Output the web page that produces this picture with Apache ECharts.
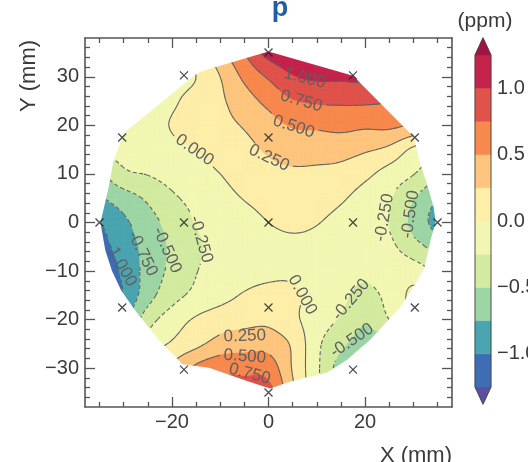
<!DOCTYPE html>
<html>
<head>
<meta charset="utf-8">
<script src="https://cdn.jsdelivr.net/npm/echarts@6/dist/echarts.min.js"></script>
<style>
  html, body { margin: 0; padding: 0; background: #fff; }
  #chart { width: 528px; height: 462px; }
</style>
</head>
<body>
<div id="chart"></div>
<script>
  // measured field, ppm, on a 5 mm grid (rows top to bottom)
  const gridX = [-35, -30, -25, -20, -15, -10, -5, 0, 5, 10, 15, 20, 25, 30, 35]
  const gridY = [35, 30, 25, 20, 15, 10, 5, 0, -5, -10, -15, -20, -25, -30, -35]
  const ppm = [
    [-0.35, -0.25, -0.18, -0.10, 0.08, 0.42, 0.75, 1.10, 1.20, 1.20, 1.20, 1.15, 1.10, 0.90, 0.60],
    [-0.35, -0.25, -0.15, -0.08, 0.00, 0.25, 0.55, 0.78, 0.98, 1.04, 1.04, 1.05, 1.00, 0.80, 0.60],
    [-0.30, -0.20, -0.10, -0.03, 0.08, 0.21, 0.39, 0.57, 0.73, 0.78, 0.79, 0.79, 0.75, 0.60, 0.40],
    [-0.25, -0.15, -0.06, 0.01, 0.10, 0.18, 0.27, 0.40, 0.52, 0.54, 0.57, 0.54, 0.55, 0.45, 0.20],
    [-0.22, -0.17, -0.12, -0.05, 0.00, 0.09, 0.18, 0.28, 0.35, 0.35, 0.34, 0.28, 0.19, -0.05, -0.15],
    [-0.55, -0.30, -0.24, -0.16, -0.08, 0.00, 0.10, 0.18, 0.21, 0.20, 0.17, 0.06, -0.10, -0.24, -0.45],
    [-0.78, -0.62, -0.46, -0.29, -0.18, -0.08, 0.01, 0.08, 0.12, 0.10, 0.03, -0.10, -0.23, -0.48, -0.75],
    [-1.00, -0.80, -0.60, -0.41, -0.24, -0.16, -0.08, 0.00, 0.04, 0.01, -0.07, -0.15, -0.26, -0.58, -0.85],
    [-1.12, -0.88, -0.67, -0.46, -0.29, -0.18, -0.10, -0.06, -0.04, -0.06, -0.12, -0.18, -0.20, -0.40, -0.60],
    [-1.25, -0.95, -0.66, -0.44, -0.26, -0.15, -0.08, -0.04, -0.03, -0.10, -0.15, -0.20, -0.12, -0.12, -0.30],
    [-1.20, -0.98, -0.60, -0.34, -0.19, -0.08, 0.02, 0.06, 0.03, -0.07, -0.19, -0.33, -0.17, 0.05, 0.00],
    [-1.00, -0.80, -0.36, -0.13, 0.03, 0.13, 0.17, 0.19, 0.05, -0.12, -0.28, -0.47, -0.25, 0.00, 0.00],
    [-0.90, -0.60, -0.15, 0.03, 0.19, 0.34, 0.40, 0.40, 0.21, -0.19, -0.45, -0.60, -0.55, -0.30, -0.10],
    [-0.50, -0.20, 0.00, 0.30, 0.55, 0.68, 0.67, 0.64, 0.23, -0.20, -0.60, -0.65, -0.50, -0.30, -0.10],
    [-0.40, -0.20, 0.10, 0.40, 0.70, 0.85, 0.90, 0.85, 0.30, -0.20, -0.60, -0.60, -0.40, -0.20, -0.10]
  ]

  // contour levels and colours (below first level ... above last level)
  const levels = [-1.25, -1, -0.75, -0.5, -0.25, 0, 0.25, 0.5, 0.75, 1, 1.25]
  const bandColors = ['#5b4fa0', '#3f6db3', '#4aa5b0', '#9dd5a5', '#d3eba0', '#f1f7b3',
    '#fdeea8', '#fdc57e', '#f7894e', '#e0534b', '#c4234c', '#a11544']
  const lineLevels = [-1, -0.75, -0.5, -0.25, 0, 0.25, 0.5, 0.75, 1]

  // outline of the measured area (mm)
  const outlineX = [0, 17.5, 30.1, 31.2, 32.8, 34.2, 34.6, 33.6, 32.3, 30.8, 27.3, 21, 16.2, 12, 7.8, 4.4, 0.3,
    -4.6, -12.3, -17.8, -22.7, -27.6, -30.5, -32.4, -33.8, -34.8, -33.9, -33.1, -32.1, -29.9, -15.1, -13.7]
  const outlineY = [35.2, 30.2, 17.6, 12.8, 8, 3.2, 0, -3.5, -9.2, -12, -17.4, -24.2, -28.3, -31, -31.9, -32.8, -34.2,
    -32.6, -29.9, -29.2, -24.2, -18.1, -14, -10, -5.7, 0, 3.8, 7.3, 12.7, 18.5, 30.5, 31.2]

  // probe positions
  const markX = [0, 17.5, 30.3, 35, 30.3, 17.5, 0, -17.5, -30.3, -35, -30.3, -17.5, 0, 17.5, 0, -17.5, 0]
  const markY = [35, 30.3, 17.5, 0, -17.5, -30.3, -35, -30.3, -17.5, 0, 17.5, 30.3, 17.5, 0, 0, 0, -17.5]

  // inline contour labels
  const clabelText = ['1.000', '0.750', '0.500', '0.250', '0.000', '-0.250', '-0.500', '-0.750', '-1.000',
    '-0.250', '-0.500', '0.000', '-0.250', '-0.500', '0.250', '0.500', '0.750']
  const clabelLevel = [1, 0.75, 0.5, 0.25, 0, -0.25, -0.5, -0.75, -1, -0.25, -0.5, 0, -0.25, -0.5, 0.25, 0.5, 0.75]
  const clabelX = [7.5, 6.8, 5.2, 0.1, -15.3, -14.0, -21.0, -26.1, -30.6, 24.0, 29.4, 7.0, 17.1, 17.3, -4.9, -4.9, -3.9]
  const clabelY = [29.7, 25.0, 19.7, 13.3, 14.9, -3.5, -5.7, -6.4, -8.6, 1.0, 1.7, -14.9, -15.9, -24.3, -23.4, -27.6, -31.2]
  const clabelAngle = [-14, -16, -18, -25, -35, -74, -66, -64, -61, 80, 82, -61, 50, 34, 2, -4, -15]

  const xMajor = [-20, 0, 20]
  const xMinor = [-35, -30, -25, -15, -10, -5, 5, 10, 15, 25, 30, 35]
  const yMajor = [-30, -20, -10, 0, 10, 20, 30]
  const yMinor = []
  for (let v = -36; v <= 36; v += 2) if (v % 10 !== 0) yMinor.push(v)
  const cbarTicks = [-1, -0.5, 0, 0.5, 1]
  const cbarExt = 0.13

  const font = '"Liberation Sans", Arial, sans-serif'
  const axisColor = '#555'
  const SUB = 10
  const minus = (s) => String(s).replace('-', '\u2212')

  const nx = gridX.length, ny = gridY.length
  const cells = []
  for (let j = 0; j < ny - 1; j++) {
    for (let i = 0; i < nx - 1; i++) {
      cells.push([gridX[i], gridX[i + 1], gridY[j + 1], gridY[j],
        ppm[j + 1][i], ppm[j + 1][i + 1], ppm[j][i], ppm[j][i + 1], i, j])
    }
  }

  // smooth (Catmull-Rom) surface through the grid values, linear extrapolation at the edges
  const at = (ix, iy) => {
    if (ix < 0) return 2 * at(0, iy) - at(1, iy)
    if (ix >= nx) return 2 * at(nx - 1, iy) - at(nx - 2, iy)
    if (iy < 0) return 2 * at(ix, 0) - at(ix, 1)
    if (iy >= ny) return 2 * at(ix, ny - 1) - at(ix, ny - 2)
    return ppm[iy][ix]
  }
  const cr = (p0, p1, p2, p3, t) =>
    0.5 * (2 * p1 + (p2 - p0) * t + (2 * p0 - 5 * p1 + 4 * p2 - p3) * t * t + (3 * p1 - p0 - 3 * p2 + p3) * t * t * t)

  const bandOf = (v) => {
    let k = 0
    while (k < levels.length && v >= levels[k]) k++
    return k
  }

  const clipPoly = (poly, s) => {
    const out = []
    for (let i = 0; i < poly.length; i++) {
      const a = poly[i], b = poly[(i + 1) % poly.length]
      const sa = s(a[2]), sb = s(b[2])
      if (sa >= 0) out.push(a)
      if ((sa >= 0) !== (sb >= 0)) {
        const t = sa / (sa - sb)
        out.push([a[0] + t * (b[0] - a[0]), a[1] + t * (b[1] - a[1]), a[2] + t * (b[2] - a[2])])
      }
    }
    return out
  }

  const f2 = (n) => n.toFixed(2)
  const polyPath = (poly) => {
    let d = 'M' + f2(poly[0][0]) + ' ' + f2(poly[0][1])
    for (let i = 1; i < poly.length; i++) d += 'L' + f2(poly[i][0]) + ' ' + f2(poly[i][1])
    return d + 'Z'
  }

  // sub-nodes of one grid cell, in pixels, with surface values
  const subGrid = (api) => {
    const a = api.coord([api.value(0), api.value(2)])
    const b = api.coord([api.value(1), api.value(3)])
    const i = api.value(8), j = api.value(9)
    // neighbourhood rows from bottom (j+2) to top (j-1)
    const rowsIdx = [j + 2, j + 1, j, j - 1]
    const nodes = []
    let lo = Infinity, hi = -Infinity
    for (let jj = 0; jj <= SUB; jj++) {
      const t = jj / SUB
      const row = []
      for (let ii = 0; ii <= SUB; ii++) {
        const s = ii / SUB
        const r = rowsIdx.map((iy) => cr(at(i - 1, iy), at(i, iy), at(i + 1, iy), at(i + 2, iy), s))
        const v = cr(r[0], r[1], r[2], r[3], t)
        lo = Math.min(lo, v); hi = Math.max(hi, v)
        row.push([a[0] + s * (b[0] - a[0]), a[1] + t * (b[1] - a[1]), v])
      }
      nodes.push(row)
    }
    return { lo, hi, nodes }
  }

  const renderFill = (params, api) => {
    const g = subGrid(api)
    const kLo = bandOf(g.lo), kHi = bandOf(g.hi)
    const paths = {}
    const add = (k, poly) => {
      if (poly.length >= 3) paths[k] = (paths[k] || '') + polyPath(poly)
    }
    const n = g.nodes
    if (kLo === kHi) {
      add(kLo, [n[0][0], n[0][SUB], n[SUB][SUB], n[SUB][0]])
    } else {
      for (let j = 0; j < SUB; j++) {
        for (let i = 0; i < SUB; i++) {
          const p = n[j][i], q = n[j][i + 1], r = n[j + 1][i + 1], u = n[j + 1][i]
          const ks = [p, q, r, u].map((m) => bandOf(m[2]))
          const mn = Math.min(...ks), mx = Math.max(...ks)
          if (mn === mx) { add(mn, [p, q, r, u]); continue }
          [[p, q, r], [p, r, u]].forEach((tri) => {
            for (let k = mn; k <= mx; k++) {
              let poly = tri
              if (k > 0) poly = clipPoly(poly, (v) => v - levels[k - 1])
              if (k < levels.length && poly.length) poly = clipPoly(poly, (v) => levels[k] - v)
              add(k, poly)
            }
          })
        }
      }
    }
    return {
      type: 'group',
      children: Object.keys(paths).map((k) => ({
        type: 'path',
        shape: { pathData: paths[k] },
        style: { fill: bandColors[k], stroke: bandColors[k], lineWidth: 0.8 }
      }))
    }
  }

  const chainSegs = (segs) => {
    const key = (p) => f2(p[0]) + ',' + f2(p[1])
    const map = new Map()
    segs.forEach((s, i) => {
      s.forEach((p) => {
        const k = key(p)
        if (!map.has(k)) map.set(k, [])
        map.get(k).push(i)
      })
    })
    const used = segs.map(() => false)
    const lines = []
    for (let i = 0; i < segs.length; i++) {
      if (used[i]) continue
      used[i] = true
      const line = [segs[i][0], segs[i][1]]
      for (let dir = 0; dir < 2; dir++) {
        let grow = true
        while (grow) {
          grow = false
          const end = line[line.length - 1]
          const ek = key(end)
          for (const j of map.get(ek) || []) {
            if (used[j]) continue
            used[j] = true
            line.push(key(segs[j][0]) === ek ? segs[j][1] : segs[j][0])
            grow = true
            break
          }
        }
        line.reverse()
      }
      lines.push(line)
    }
    return lines
  }

  const renderLines = (params, api) => {
    const g = subGrid(api)
    const lvls = lineLevels.filter((L) => g.hi >= L && g.lo < L)
    const children = []
    if (!lvls.length) return { type: 'group', children }
    const boxes = clabelText.map((txt, i) => {
      const th = clabelAngle[i] * Math.PI / 180
      return { level: clabelLevel[i], c: api.coord([clabelX[i], clabelY[i]]),
        cos: Math.cos(th), sin: Math.sin(th), hw: txt.length * 4.6 + 2 }
    })
    const inLabel = (pt, L) => boxes.some((b) => {
      if (b.level !== L) return false
      const dx = pt[0] - b.c[0], dy = pt[1] - b.c[1]
      return Math.abs(dx * b.cos - dy * b.sin) < b.hw && Math.abs(dx * b.sin + dy * b.cos) < 7
    })
    const cross = (u, w, L) => {
      let m = u, k = w
      if (w[0] < u[0] || (w[0] === u[0] && w[1] < u[1])) { m = w; k = u }
      const t = (L - m[2]) / (k[2] - m[2])
      return [m[0] + t * (k[0] - m[0]), m[1] + t * (k[1] - m[1])]
    }
    const n = g.nodes
    lvls.forEach((L) => {
      const segs = []
      for (let j = 0; j < SUB; j++) {
        for (let i = 0; i < SUB; i++) {
          const p = n[j][i], q = n[j][i + 1], r = n[j + 1][i + 1], u = n[j + 1][i]
          ;[[p, q, r], [p, r, u]].forEach((tri) => {
            const pts = []
            for (let e = 0; e < 3; e++) {
              const a = tri[e], b = tri[(e + 1) % 3]
              if ((a[2] >= L) !== (b[2] >= L)) pts.push(cross(a, b, L))
            }
            if (pts.length !== 2) return
            if (f2(pts[0][0]) === f2(pts[1][0]) && f2(pts[0][1]) === f2(pts[1][1])) return
            const mid = [(pts[0][0] + pts[1][0]) / 2, (pts[0][1] + pts[1][1]) / 2]
            if (!inLabel(mid, L)) segs.push(pts)
          })
        }
      }
      chainSegs(segs).forEach((line) => {
        children.push({
          type: 'polyline',
          shape: { points: line },
          style: { stroke: '#626262', lineWidth: 1.1, fill: 'none', lineDash: L < 0 ? [4, 2.5] : null }
        })
      })
    })
    return { type: 'group', children }
  }

  const renderMask = (params, api) => {
    const cs = params.coordSys
    let d = 'M' + cs.x + ' ' + cs.y + 'L' + (cs.x + cs.width) + ' ' + cs.y + 'L' + (cs.x + cs.width) + ' ' +
      (cs.y + cs.height) + 'L' + cs.x + ' ' + (cs.y + cs.height) + 'Z'
    const pts = outlineX.map((x, i) => api.coord([x, outlineY[i]]))
    let area = 0
    for (let i = 0; i < pts.length; i++) {
      const p = pts[i], q = pts[(i + 1) % pts.length]
      area += p[0] * q[1] - q[0] * p[1]
    }
    if (area > 0) pts.reverse()
    d += polyPath(pts)
    return { type: 'path', shape: { pathData: d }, style: { fill: '#fff', stroke: 'none' } }
  }

  const renderLabel = (params, api) => {
    const i = params.dataIndex
    const c = api.coord([api.value(0), api.value(1)])
    return {
      type: 'text',
      x: c[0],
      y: c[1],
      rotation: clabelAngle[i] * Math.PI / 180,
      style: {
        text: clabelText[i], fill: '#606060', fontSize: 17, fontFamily: font,
        align: 'center', verticalAlign: 'middle', textAlign: 'center', textVerticalAlign: 'middle'
      }
    }
  }

  const renderBar = (params, api) => {
    const k = params.dataIndex
    const fill = bandColors[k]
    const last = levels.length
    if (k === 0 || k === last) {
      const lv = k === 0 ? levels[0] : levels[last - 1]
      const tipV = k === 0 ? lv - cbarExt : lv + cbarExt
      return {
        type: 'polygon',
        shape: { points: [api.coord([0, lv]), api.coord([1, lv]), api.coord([0.5, tipV])] },
        style: { fill, stroke: fill, lineWidth: 0.5 }
      }
    }
    const p = api.coord([0, levels[k - 1]]), q = api.coord([1, levels[k]])
    return {
      type: 'rect',
      shape: { x: p[0], y: q[1], width: q[0] - p[0], height: p[1] - q[1] },
      style: { fill, stroke: fill, lineWidth: 0.5 }
    }
  }

  const renderBarOutline = (params, api) => {
    const top = levels[levels.length - 1], bot = levels[0]
    return {
      type: 'polygon',
      shape: {
        points: [api.coord([0.5, top + cbarExt]), api.coord([1, top]), api.coord([1, bot]),
          api.coord([0.5, bot - cbarExt]), api.coord([0, bot]), api.coord([0, top])]
      },
      style: { fill: 'none', stroke: '#444', lineWidth: 0.9 }
    }
  }

  const tickLine = { color: axisColor, width: 1.3 }
  const frameAxis = (pos, major, minor, withLabels) => {
    const isX = pos === 'top' || pos === 'bottom'
    const base = {
      gridIndex: 0, type: 'value', min: -38, max: 38, position: pos, z: 10,
      splitLine: { show: false }
    }
    return [
      Object.assign({}, base, {
        axisLine: { show: true, onZero: false, lineStyle: { color: axisColor, width: 1.6 } },
        axisTick: { show: true, inside: true, length: 10, customValues: major, lineStyle: tickLine },
        axisLabel: withLabels
          ? { show: true, customValues: major, formatter: (v) => minus(v), color: '#3a3a3a',
            fontSize: 20, fontFamily: font, margin: isX ? 5 : 6 }
          : { show: false }
      }),
      Object.assign({}, base, {
        axisLine: { show: false, onZero: false },
        axisTick: { show: true, inside: true, length: 5, customValues: minor, lineStyle: tickLine },
        axisLabel: { show: false }
      })
    ]
  }

  const chart = echarts.init(document.getElementById('chart'))
  chart.setOption({
    animation: false,
    backgroundColor: '#fff',
    textStyle: { fontFamily: font },
    grid: [
      { left: 85, top: 38, width: 367, height: 369, containLabel: false, outerBoundsMode: 'none' },
      { left: 475, top: 55, width: 16, height: 332, containLabel: false, outerBoundsMode: 'none' }
    ],
    xAxis: [
      ...frameAxis('bottom', xMajor, xMinor, true),
      ...frameAxis('top', xMajor, xMinor, false),
      { gridIndex: 1, type: 'value', min: 0, max: 1, show: false }
    ],
    yAxis: [
      ...frameAxis('left', yMajor, yMinor, true),
      ...frameAxis('right', yMajor, yMinor, false),
      {
        gridIndex: 1, type: 'value', min: -1.25, max: 1.25, position: 'right',
        axisLine: { show: false, onZero: false }, axisTick: { show: false }, splitLine: { show: false },
        axisLabel: { customValues: cbarTicks, formatter: (v) => minus(v.toFixed(1)),
          color: '#3a3a3a', fontSize: 20, fontFamily: font, margin: 6 }
      }
    ],
    graphic: [
      { type: 'text', x: 280, y: 22, style: { text: 'p', fill: '#1f5fa6', fontSize: 27, fontWeight: 'bold',
        fontFamily: font, align: 'center', verticalAlign: 'bottom', textAlign: 'center', textVerticalAlign: 'bottom' } },
      { type: 'text', x: 485, y: 21, style: { text: '(ppm)', fill: '#3a3a3a', fontSize: 21, fontFamily: font,
        align: 'center', verticalAlign: 'middle', textAlign: 'center', textVerticalAlign: 'middle' } },
      { type: 'text', x: 452, y: 456, style: { text: 'X (mm)', fill: '#3a3a3a', fontSize: 22, fontFamily: font,
        align: 'right', verticalAlign: 'middle', textAlign: 'right', textVerticalAlign: 'middle' } },
      { type: 'text', x: 29, y: 76, rotation: Math.PI / 2, style: { text: 'Y (mm)', fill: '#3a3a3a', fontSize: 22,
        fontFamily: font, align: 'center', verticalAlign: 'middle', textAlign: 'center', textVerticalAlign: 'middle' } }
    ],
    series: [
      {
        type: 'custom', name: 'fill', xAxisIndex: 0, yAxisIndex: 0, z: 2, silent: true,
        encode: { x: [0, 1], y: [2, 3] }, data: cells, renderItem: renderFill
      },
      {
        type: 'custom', name: 'contours', xAxisIndex: 0, yAxisIndex: 0, z: 3, silent: true,
        encode: { x: [0, 1], y: [2, 3] }, data: cells, renderItem: renderLines
      },
      {
        type: 'custom', name: 'mask', xAxisIndex: 0, yAxisIndex: 0, z: 4, silent: true,
        data: [[0, 0]], renderItem: renderMask
      },
      {
        type: 'custom', name: 'labels', xAxisIndex: 0, yAxisIndex: 0, z: 5, silent: true,
        data: clabelX.map((x, i) => [x, clabelY[i]]), renderItem: renderLabel
      },
      {
        type: 'scatter', name: 'probes', xAxisIndex: 0, yAxisIndex: 0, z: 6, silent: true,
        symbol: 'path://M0 0L10 10M10 0L0 10', symbolSize: 8,
        itemStyle: { color: 'transparent', borderColor: '#1e1e1e', borderWidth: 1.3 },
        data: markX.map((x, i) => [x, markY[i]])
      },
      {
        type: 'custom', name: 'colorbar', xAxisIndex: 4, yAxisIndex: 4, z: 2, silent: true,
        data: bandColors.map((c, k) => [0.5, k === 0 ? -1.3 : k === levels.length ? 1.3 : (levels[k - 1] + levels[k]) / 2]),
        renderItem: renderBar
      },
      {
        type: 'custom', name: 'colorbarOutline', xAxisIndex: 4, yAxisIndex: 4, z: 3, silent: true,
        data: [[0.5, 0]], renderItem: renderBarOutline
      }
    ]
  })

  window.addEventListener('resize', () => chart.resize())
</script>
</body>
</html>
